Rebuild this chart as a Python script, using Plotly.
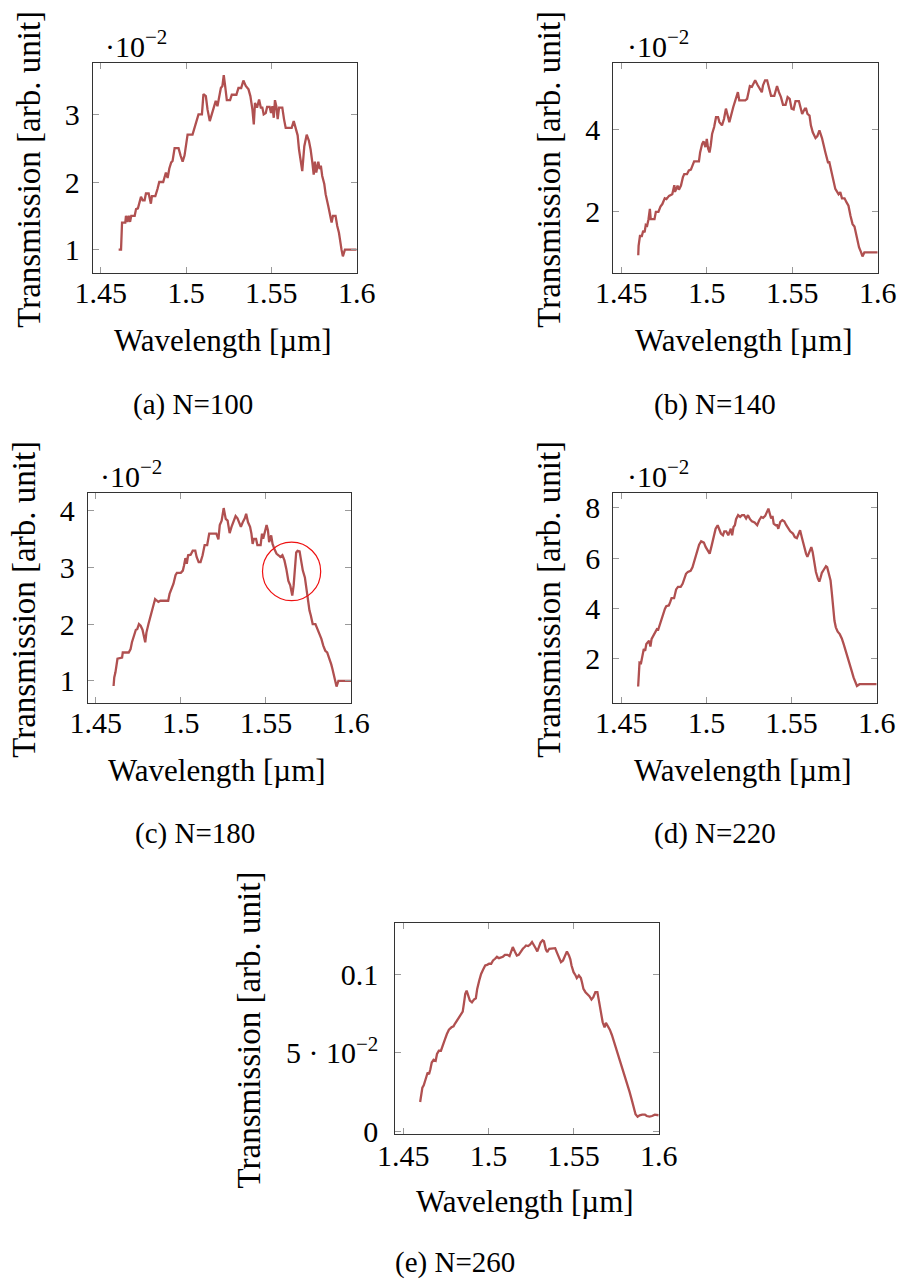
import plotly.graph_objects as go

# Simulated transmission spectra for gratings with N periods.
# Wavelength in µm, transmission in units of 1e-2 (arb. unit).

wl_a = [1.4605, 1.4619, 1.4625, 1.4644, 1.4648, 1.4656, 1.4664, 1.4672, 1.4679, 1.4699,
        1.4707, 1.4718, 1.4736, 1.4746, 1.4757, 1.4765, 1.4781, 1.4794, 1.4800, 1.4820,
        1.4833, 1.4843, 1.4866, 1.4882, 1.4892, 1.4902, 1.4913, 1.4921, 1.4933, 1.4956,
        1.4968, 1.4980, 1.4991, 1.5003, 1.5009, 1.5038, 1.5054, 1.5067, 1.5073, 1.5093,
        1.5102, 1.5116, 1.5126, 1.5139, 1.5151, 1.5163, 1.5174, 1.5184, 1.5190, 1.5204,
        1.5213, 1.5221, 1.5229, 1.5239, 1.5258, 1.5268, 1.5295, 1.5307, 1.5323, 1.5336,
        1.5350, 1.5366, 1.5377, 1.5389, 1.5397, 1.5404, 1.5416, 1.5428, 1.5438, 1.5447,
        1.5455, 1.5467, 1.5475, 1.5490, 1.5498, 1.5506, 1.5514, 1.5521, 1.5529, 1.5537,
        1.5545, 1.5564, 1.5574, 1.5584, 1.5619, 1.5631, 1.5642, 1.5654, 1.5662, 1.5672,
        1.5681, 1.5693, 1.5707, 1.5720, 1.5730, 1.5740, 1.5748, 1.5755, 1.5763, 1.5775,
        1.5783, 1.5790, 1.5798, 1.5810, 1.5818, 1.5833, 1.5847, 1.5853, 1.5861, 1.5876,
        1.5886, 1.5896, 1.5911, 1.5919, 1.5931, 1.6000]
tr_a = [1.0, 1.0, 1.40, 1.40, 1.5, 1.41, 1.5, 1.41, 1.5, 1.5,
        1.6, 1.61, 1.78, 1.73, 1.73, 1.83, 1.83, 1.68, 1.79, 1.79,
        1.90, 2.0, 2.0, 2.14, 2.06, 2.2, 2.29, 2.31, 2.5, 2.5,
        2.39, 2.30, 2.39, 2.58, 2.70, 2.70, 2.84, 2.93, 3.0, 3.0,
        3.30, 3.27, 3.07, 2.90, 3.0, 3.12, 3.2, 3.12, 3.2, 3.39,
        3.42, 3.58, 3.42, 3.21, 3.21, 3.29, 3.29, 3.39, 3.39, 3.50,
        3.42, 3.37, 3.27, 3.07, 2.85, 3.17, 3.10, 3.22, 3.10, 3.10,
        3.0, 3.02, 3.11, 3.11, 3.02, 3.12, 2.95, 3.21, 3.12, 2.93,
        3.10, 3.10, 2.93, 2.80, 2.80, 2.90, 2.80, 2.69, 2.48, 2.29,
        2.16, 2.53, 2.70, 2.61, 2.48, 2.29, 2.11, 2.30, 2.14, 2.30,
        2.19, 2.24, 2.09, 1.97, 1.82, 1.65, 1.50, 1.40, 1.50, 1.50,
        1.35, 1.25, 1.0, 0.9, 1.0, 1.0]

wl_b = [1.4599, 1.4601, 1.4609, 1.4620, 1.4628, 1.4636, 1.4643, 1.4651, 1.4659, 1.4667,
        1.4672, 1.4694, 1.4702, 1.4717, 1.4729, 1.4740, 1.4754, 1.4764, 1.4779, 1.4798,
        1.4810, 1.4814, 1.4822, 1.4829, 1.4837, 1.4849, 1.4860, 1.4868, 1.4884, 1.4895,
        1.4907, 1.4918, 1.4926, 1.4954, 1.4961, 1.4973, 1.4981, 1.4992, 1.5000, 1.5008,
        1.5016, 1.5023, 1.5031, 1.5043, 1.5054, 1.5066, 1.5074, 1.5089, 1.5101, 1.5112,
        1.5124, 1.5132, 1.5155, 1.5171, 1.5182, 1.5190, 1.5225, 1.5236, 1.5252, 1.5264,
        1.5283, 1.5298, 1.5310, 1.5322, 1.5329, 1.5341, 1.5353, 1.5364, 1.5376, 1.5395,
        1.5411, 1.5422, 1.5434, 1.5446, 1.5461, 1.5473, 1.5485, 1.5496, 1.5508, 1.5519,
        1.5539, 1.5550, 1.5558, 1.5574, 1.5581, 1.5589, 1.5601, 1.5609, 1.5620, 1.5636,
        1.5647, 1.5659, 1.5667, 1.5674, 1.5694, 1.5709, 1.5717, 1.5729, 1.5740, 1.5752,
        1.5771, 1.5781, 1.5791, 1.5806, 1.5818, 1.5829, 1.5841, 1.5853, 1.5864, 1.5876,
        1.5884, 1.5891, 1.5903, 1.5911, 1.5922, 1.6000]
tr_b = [0.93, 1.16, 1.40, 1.40, 1.53, 1.49, 1.67, 1.65, 1.81, 2.06,
        1.81, 1.81, 1.99, 1.99, 2.12, 2.18, 2.32, 2.30, 2.38, 2.42,
        2.64, 2.48, 2.55, 2.63, 2.53, 2.63, 2.83, 2.91, 2.91, 3.0,
        3.02, 3.13, 3.22, 3.22, 3.44, 3.65, 3.71, 3.57, 3.77, 3.53,
        3.44, 3.61, 3.89, 4.06, 4.30, 4.30, 4.18, 4.10, 4.26, 4.51,
        4.30, 4.18, 4.55, 4.79, 4.91, 4.71, 4.71, 4.75, 5.06, 5.04,
        5.20, 5.08, 5.0, 4.91, 5.08, 5.20, 5.20, 5.0, 4.82, 4.82,
        5.06, 4.91, 4.79, 4.60, 4.60, 4.79, 4.75, 4.51, 4.49, 4.69,
        4.69, 4.51, 4.38, 4.51, 4.51, 4.38, 4.34, 4.10, 3.93, 3.79,
        3.84, 3.98, 3.89, 3.79, 3.44, 3.20, 3.20, 2.96, 2.71, 2.55,
        2.42, 2.47, 2.32, 2.32, 2.22, 2.14, 1.89, 1.69, 1.63, 1.40,
        1.20, 1.12, 1.0, 0.90, 1.0, 1.0]

wl_c = [1.4605, 1.4609, 1.4616, 1.4628, 1.4655, 1.4659, 1.4694, 1.4705, 1.4713, 1.4725,
        1.4736, 1.4744, 1.4754, 1.4764, 1.4775, 1.4791, 1.4798, 1.4810, 1.4822, 1.4829,
        1.4837, 1.4849, 1.4860, 1.4868, 1.4880, 1.4926, 1.4934, 1.4946, 1.4957, 1.4969,
        1.4977, 1.5000, 1.5012, 1.5019, 1.5027, 1.5035, 1.5043, 1.5058, 1.5070, 1.5085,
        1.5093, 1.5105, 1.5116, 1.5128, 1.5140, 1.5155, 1.5167, 1.5209, 1.5221, 1.5229,
        1.5240, 1.5252, 1.5264, 1.5275, 1.5287, 1.5298, 1.5310, 1.5322, 1.5333, 1.5345,
        1.5353, 1.5364, 1.5376, 1.5384, 1.5395, 1.5407, 1.5415, 1.5422, 1.5430, 1.5442,
        1.5450, 1.5469, 1.5477, 1.5484, 1.5496, 1.5504, 1.5512, 1.5519, 1.5531, 1.5539,
        1.5550, 1.5562, 1.5574, 1.5585, 1.5597, 1.5609, 1.5620, 1.5632, 1.5643, 1.5655,
        1.5663, 1.5671, 1.5678, 1.5686, 1.5698, 1.5705, 1.5717, 1.5729, 1.5740, 1.5748,
        1.5756, 1.5764, 1.5775, 1.5791, 1.5802, 1.5814, 1.5826, 1.5837, 1.5849, 1.5860,
        1.5872, 1.5884, 1.5891, 1.5903, 1.5915, 1.5926, 1.6000]
tr_c = [0.91, 1.06, 1.15, 1.39, 1.41, 1.5, 1.5, 1.56, 1.68, 1.82,
        1.90, 1.91, 2.0, 1.97, 1.90, 1.68, 1.85, 2.0, 2.15, 2.24,
        2.32, 2.44, 2.41, 2.39, 2.41, 2.41, 2.53, 2.62, 2.71, 2.86,
        2.90, 2.90, 2.94, 3.03, 3.16, 3.06, 3.21, 3.22, 3.29, 3.29,
        3.18, 3.09, 3.09, 3.21, 3.39, 3.39, 3.59, 3.59, 3.49, 3.74,
        3.82, 4.04, 3.85, 3.82, 3.60, 3.71, 3.82, 3.90, 3.86, 3.76,
        3.71, 3.79, 3.86, 3.94, 3.79, 3.71, 3.59, 3.41, 3.50, 3.50,
        3.39, 3.39, 3.59, 3.50, 3.68, 3.74, 3.65, 3.44, 3.56, 3.41,
        3.32, 3.24, 3.21, 3.18, 3.21, 3.12, 2.97, 2.76, 2.68, 2.50,
        2.68, 2.97, 3.26, 3.29, 3.28, 3.15, 2.94, 2.82, 2.56, 2.38,
        2.24, 2.15, 2.0, 2.0, 1.91, 1.85, 1.74, 1.62, 1.53, 1.50,
        1.41, 1.29, 1.21, 1.06, 0.90, 1.0, 1.0]

wl_d = [1.4599, 1.4601, 1.4607, 1.4616, 1.4624, 1.4632, 1.4640, 1.4647, 1.4663, 1.4671,
        1.4678, 1.4690, 1.4698, 1.4709, 1.4717, 1.4733, 1.4744, 1.4756, 1.4764, 1.4779,
        1.4787, 1.4795, 1.4810, 1.4822, 1.4833, 1.4849, 1.4860, 1.4872, 1.4880, 1.4891,
        1.4907, 1.4918, 1.4930, 1.4938, 1.4950, 1.4957, 1.4969, 1.4985, 1.4996, 1.5012,
        1.5019, 1.5031, 1.5043, 1.5054, 1.5066, 1.5074, 1.5085, 1.5097, 1.5105, 1.5116,
        1.5128, 1.5136, 1.5143, 1.5151, 1.5159, 1.5167, 1.5174, 1.5186, 1.5198, 1.5209,
        1.5221, 1.5233, 1.5244, 1.5256, 1.5267, 1.5283, 1.5298, 1.5310, 1.5322, 1.5333,
        1.5345, 1.5364, 1.5372, 1.5380, 1.5388, 1.5395, 1.5407, 1.5415, 1.5422, 1.5434,
        1.5446, 1.5457, 1.5469, 1.5481, 1.5492, 1.5508, 1.5519, 1.5531, 1.5543, 1.5550,
        1.5562, 1.5574, 1.5585, 1.5593, 1.5605, 1.5616, 1.5624, 1.5632, 1.5643, 1.5655,
        1.5663, 1.5671, 1.5678, 1.5690, 1.5702, 1.5709, 1.5717, 1.5729, 1.5736, 1.5744,
        1.5752, 1.5760, 1.5771, 1.5783, 1.5795, 1.5806, 1.5818, 1.5829, 1.5841, 1.5853,
        1.5864, 1.5876, 1.5884, 1.5899, 1.6000]
tr_d = [0.90, 1.32, 1.85, 1.83, 2.12, 2.39, 2.32, 2.59, 2.72, 2.49,
        2.79, 2.92, 3.05, 3.18, 3.16, 3.52, 3.74, 3.98, 4.09, 4.12,
        4.25, 4.41, 4.41, 4.76, 4.86, 4.86, 4.98, 5.21, 5.38, 5.45,
        5.50, 5.64, 5.91, 6.11, 6.31, 6.54, 6.67, 6.62, 6.44, 6.27,
        6.18, 6.51, 6.91, 7.17, 7.31, 7.17, 6.98, 6.91, 7.07, 7.07,
        6.91, 7.04, 7.17, 6.91, 7.24, 7.31, 7.55, 7.71, 7.64, 7.71,
        7.71, 7.58, 7.71, 7.55, 7.47, 7.42, 7.31, 7.51, 7.64, 7.60,
        7.68, 7.97, 7.81, 7.58, 7.68, 7.37, 7.31, 7.31, 7.17, 7.44,
        7.51, 7.47, 7.31, 7.17, 7.07, 6.98, 6.84, 6.80, 6.98, 7.11,
        6.78, 6.44, 6.18, 6.05, 6.27, 6.44, 6.24, 5.91, 5.45, 5.18,
        5.07, 5.24, 5.42, 5.55, 5.68, 5.64, 5.45, 5.11, 4.65, 4.05,
        3.51, 3.25, 3.08, 2.98, 2.81, 2.58, 2.32, 2.12, 1.79, 1.52,
        1.26, 1.06, 0.92, 0.99, 0.99]

wl_e = [1.4599, 1.4605, 1.4612, 1.4620, 1.4628, 1.4636, 1.4643, 1.4651, 1.4659, 1.4667,
        1.4678, 1.4690, 1.4698, 1.4709, 1.4721, 1.4733, 1.4744, 1.4756, 1.4768, 1.4783,
        1.4795, 1.4802, 1.4814, 1.4826, 1.4837, 1.4849, 1.4857, 1.4864, 1.4872, 1.4880,
        1.4891, 1.4903, 1.4915, 1.4926, 1.4934, 1.4946, 1.4957, 1.4969, 1.4981, 1.4992,
        1.5004, 1.5016, 1.5027, 1.5039, 1.5050, 1.5062, 1.5074, 1.5085, 1.5097, 1.5112,
        1.5124, 1.5132, 1.5143, 1.5155, 1.5167, 1.5178, 1.5190, 1.5202, 1.5213, 1.5221,
        1.5233, 1.5244, 1.5256, 1.5267, 1.5279, 1.5287, 1.5298, 1.5306, 1.5318, 1.5326,
        1.5337, 1.5345, 1.5357, 1.5368, 1.5380, 1.5392, 1.5403, 1.5415, 1.5426, 1.5438,
        1.5450, 1.5461, 1.5473, 1.5481, 1.5488, 1.5500, 1.5512, 1.5519, 1.5531, 1.5543,
        1.5550, 1.5558, 1.5570, 1.5581, 1.5593, 1.5605, 1.5616, 1.5628, 1.5640, 1.5647,
        1.5659, 1.5671, 1.5682, 1.5690, 1.5702, 1.5713, 1.5725, 1.5736, 1.5748, 1.5760,
        1.5771, 1.5783, 1.5795, 1.5806, 1.5818, 1.5829, 1.5841, 1.5853, 1.5864, 1.5876,
        1.5888, 1.5903, 1.5919, 1.5930, 1.5946, 1.5961, 1.5977, 1.6000]
tr_e = [1.86, 2.36, 2.78, 2.93, 3.32, 3.49, 3.75, 3.64, 3.96, 4.39,
        4.56, 4.50, 4.93, 5.14, 5.14, 5.46, 5.85, 6.21, 6.49, 6.64,
        6.70, 6.85, 7.04, 7.22, 7.39, 7.64, 8.24, 8.78, 8.99, 8.67,
        8.35, 8.24, 8.42, 8.50, 9.10, 9.64, 10.06, 10.34, 10.60, 10.64,
        10.71, 10.71, 10.92, 11.03, 11.16, 11.07, 11.13, 11.16, 11.28, 11.28,
        11.20, 11.46, 11.78, 11.50, 11.24, 11.28, 11.50, 11.67, 11.78, 11.88,
        11.84, 11.93, 12.10, 11.84, 11.67, 11.50, 11.88, 12.06, 12.21, 12.15,
        11.63, 11.46, 11.67, 11.67, 11.71, 11.71, 11.41, 11.03, 10.81, 10.92,
        11.24, 11.50, 11.24, 10.99, 10.60, 10.17, 9.96, 9.79, 9.96, 9.79,
        9.49, 9.10, 8.89, 8.78, 8.63, 8.42, 8.57, 8.89, 8.89, 8.46,
        7.60, 6.96, 6.64, 6.92, 6.70, 6.49, 6.15, 5.78, 5.35, 4.86,
        4.50, 4.18, 3.79, 3.43, 3.0, 2.51, 2.03, 1.50, 1.07, 0.92,
        1.01, 1.05, 1.05, 0.96, 0.92, 0.96, 1.05, 1.01]

captions = ["(a) N=100", "(b) N=140", "(c) N=180", "(d) N=220", "(e) N=260"]
x_ticks = [1.45, 1.5, 1.55, 1.6]
x_tick_text = ["1.45", "1.5", "1.55", "1.6"]
y_ticks = [[1, 2, 3], [2, 4], [1, 2, 3, 4], [2, 4, 6, 8], [0, 5, 10]]
y_tick_text = [["1", "2", "3"], ["2", "4"], ["1", "2", "3", "4"], ["2", "4", "6", "8"],
               ["0", "5 · 10<sup>−2</sup>", "0.1"]]

# marked dip in the N=180 spectrum (centre wavelength, centre value, half widths)
dip_c = dict(wl=1.5651, tr=2.926, dwl=0.0171, dtr=0.515)

W, H = 901, 1281
FONT = "Liberation Serif"
LINE = "#b05050"


def px(x):
    return x / W


def py(y):
    return 1 - y / H


# panel geometry in page pixels: box (left, top, right, bottom), y range,
# y-title column, caption and exponent spots, tick label standoffs (x, y)
panels = [
    dict(box=(92.7, 62.7, 356.7, 273.3), yr=[0.650, 3.764], ytx=29, cap=(193, 404),
         exp=(103, 44), gap=(-7, 6)),
    dict(box=(613.3, 62.7, 877.7, 273.3), yr=[0.49, 5.63], ytx=549, cap=(715, 404),
         exp=(625, 44), gap=(-7, 6)),
    dict(box=(87.7, 493.3, 351.0, 703.3), yr=[0.606, 4.30], ytx=24, cap=(195, 834),
         exp=(98, 474), gap=(-7, 6)),
    dict(box=(613.3, 493.3, 876.7, 703.3), yr=[0.23, 8.58], ytx=549, cap=(715, 834),
         exp=(625, 474), gap=(-7, 6)),
    dict(box=(395.3, 923.3, 658.7, 1134.0), yr=[-0.19, 13.30], ytx=248, cap=(455, 1262),
         exp=None, gap=(-5, 10)),
]
series = [(wl_a, tr_a), (wl_b, tr_b), (wl_c, tr_c), (wl_d, tr_d), (wl_e, tr_e)]

fig = go.Figure()
annotations = []
layout = {}
for i, (p, (wl, tr)) in enumerate(zip(panels, series)):
    n = "" if i == 0 else str(i + 1)
    l, t, r, b = p["box"]
    fig.add_trace(go.Scatter(
        x=wl, y=tr, mode="lines", xaxis="x" + n, yaxis="y" + n,
        line=dict(color=LINE, width=2.3), showlegend=False, hoverinfo="skip"))
    common = dict(showline=True, linecolor="#333", linewidth=1, mirror="allticks",
                  ticks="inside", ticklen=6, tickcolor="#9a9a9a", tickwidth=1,
                  showgrid=False, zeroline=False, automargin=False,
                  tickfont=dict(family=FONT, size=30, color="black"))
    layout["xaxis" + n] = dict(common, domain=[px(l), px(r)], anchor="y" + n,
                               range=[1.4453, 1.6], tickmode="array",
                               tickvals=x_ticks, ticktext=x_tick_text,
                               ticklabelstandoff=p["gap"][0])
    layout["yaxis" + n] = dict(common, domain=[py(b), py(t)], anchor="x" + n,
                               range=p["yr"], tickmode="array",
                               tickvals=y_ticks[i], ticktext=y_tick_text[i],
                               ticklabelstandoff=p["gap"][1])
    cx = (l + r) / 2
    annotations.append(dict(text="Wavelength [µm]", x=px(cx - 2), y=py(b + 67),
                            xref="paper", yref="paper", showarrow=False,
                            xanchor="center", yanchor="middle",
                            font=dict(family=FONT, size=31, color="black")))
    annotations.append(dict(text="Transmission [arb. unit]", textangle=-90,
                            x=px(p["ytx"]), y=py(b + 57), xref="paper", yref="paper",
                            showarrow=False, xanchor="center", yanchor="bottom",
                            font=dict(family=FONT, size=33, color="black")))
    annotations.append(dict(text=captions[i], x=px(p["cap"][0]), y=py(p["cap"][1]),
                            xref="paper", yref="paper", showarrow=False,
                            xanchor="center", yanchor="middle",
                            font=dict(family=FONT, size=29, color="black")))
    if p["exp"]:
        annotations.append(dict(text="·10<sup>−2</sup>", x=px(p["exp"][0]),
                                y=py(p["exp"][1]), xref="paper", yref="paper",
                                showarrow=False, xanchor="left", yanchor="middle",
                                font=dict(family=FONT, size=30, color="black")))

fig.add_shape(type="circle", xref="x3", yref="y3",
              x0=dip_c["wl"] - dip_c["dwl"], x1=dip_c["wl"] + dip_c["dwl"],
              y0=dip_c["tr"] - dip_c["dtr"], y1=dip_c["tr"] + dip_c["dtr"],
              line=dict(color="#ee1111", width=1.2))

fig.update_layout(width=W, height=H, margin=dict(l=0, r=0, t=0, b=0),
                  paper_bgcolor="white", plot_bgcolor="white",
                  annotations=annotations, **layout)
fig.write_html("out.html")
